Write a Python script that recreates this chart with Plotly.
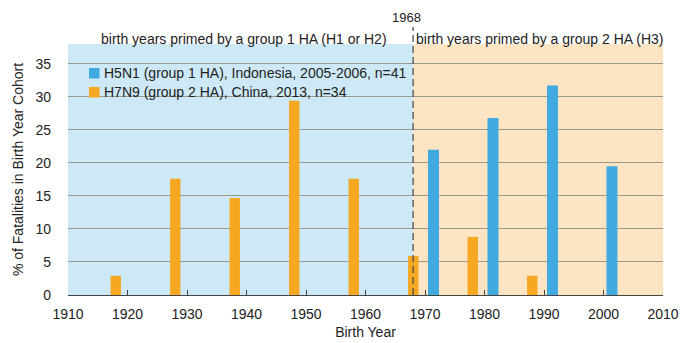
import plotly.graph_objects as go

decades = [1920, 1930, 1940, 1950, 1960, 1970, 1980, 1990, 2000, 2010]
h5n1 = [0, 0, 0, 0, 0, 22.0, 26.8, 31.7, 19.5, 0]
h7n9 = [2.9, 17.6, 14.7, 29.4, 17.6, 5.9, 8.8, 2.9, 0, 0]
xticks = [1910, 1920, 1930, 1940, 1950, 1960, 1970, 1980, 1990, 2000, 2010]
yticks = [0, 5, 10, 15, 20, 25, 30, 35]
names = ["H5N1 (group 1 HA), Indonesia, 2005-2006, n=41",
         "H7N9 (group 2 HA), China, 2013, n=34"]

BLUE = "#3fa9e0"
ORANGE = "#f7a823"
FONT = "Liberation Sans, Arial, sans-serif"
TXT = "#222222"

# plot area in pixels
L, R, T, B = 68, 31, 44, 48
W, H = 694, 343
PW, PH = W - L - R, H - T - B


def px(xp):
    return (xp - L) / PW


def py(yp):
    return (H - B - yp) / PH


fig = go.Figure()
fig.add_trace(go.Bar(x=decades, y=h5n1, name=names[0], showlegend=False,
                     marker=dict(color=BLUE, line=dict(width=0)), offset=0.5, width=1.85))
fig.add_trace(go.Bar(x=decades, y=h7n9, name=names[1], showlegend=False,
                     marker=dict(color=ORANGE, line=dict(width=0)), offset=-2.85, width=1.75))

shapes = [
    dict(type="rect", xref="x", yref="paper", x0=1910, x1=1968, y0=0, y1=1,
         fillcolor="#cde8f6", line=dict(width=0), layer="below"),
    dict(type="rect", xref="x", yref="paper", x0=1968, x1=2010, y0=0, y1=1,
         fillcolor="#fde4c3", line=dict(width=0), layer="below"),
    dict(type="line", xref="x", yref="paper", x0=1968, x1=1968, y0=0, y1=py(27),
         line=dict(color="#444444", width=1.2, dash="7px,4px"), layer="above"),
]

annotations = [
    dict(text="birth years primed by a group 1 HA (H1 or H2)", xref="x", yref="paper",
         x=1939.5, y=py(39), yanchor="middle", showarrow=False,
         font=dict(size=14, color=TXT, family=FONT)),
    dict(text="birth years primed by a group 2 HA (H3)", xref="x", yref="paper",
         x=1968.2, xanchor="left", y=py(39), yanchor="middle", showarrow=False,
         font=dict(size=14, color=TXT, family=FONT)),
    dict(text="1968", xref="x", yref="paper", x=1966.9, y=py(17), yanchor="middle",
         showarrow=False, font=dict(size=13, color=TXT, family=FONT)),
]

# custom legend
leg_colors = [BLUE, ORANGE]
leg_y = [73, 92]
for name, col, yc in zip(names, leg_colors, leg_y):
    shapes.append(dict(type="rect", xref="paper", yref="paper",
                       x0=px(89), x1=px(99.5), y0=py(yc + 5.5), y1=py(yc - 5),
                       fillcolor=col, line=dict(width=0), layer="above"))
    annotations.append(dict(text=name, xref="paper", yref="paper", x=px(101.5), y=py(yc),
                            xanchor="left", yanchor="middle", showarrow=False,
                            font=dict(size=14, color=TXT, family=FONT)))

fig.update_layout(
    width=W, height=H,
    margin=dict(l=L, r=R, t=T, b=B, autoexpand=False),
    paper_bgcolor="white",
    plot_bgcolor="rgba(0,0,0,0)",
    barmode="overlay",
    shapes=shapes,
    annotations=annotations,
    font=dict(family=FONT, size=14, color=TXT),
    showlegend=False,
    xaxis=dict(range=[1910, 2010], tickvals=xticks, ticks="inside", ticklen=5,
               tickcolor="#444444", showline=True, linecolor="#444444", linewidth=1.2,
               showgrid=False, zeroline=False, ticklabelstandoff=6, automargin=False,
               title=dict(text="Birth Year", font=dict(size=14, family=FONT), standoff=6),
               tickfont=dict(size=14, family=FONT)),
    yaxis=dict(range=[0, 38], tickvals=yticks, showgrid=True, gridcolor="#9a9a8a",
               gridwidth=1, zeroline=False, showline=False, ticks="",
               ticklabelstandoff=16, automargin=False,
               title=dict(text="% of Fatalities in Birth Year Cohort",
                          font=dict(size=14, family=FONT), standoff=8),
               tickfont=dict(size=14, family=FONT)),
)

fig.write_html("out.html", config={"displayModeBar": False},
               post_script="document.body.style.margin='0';document.body.style.padding='0';")
